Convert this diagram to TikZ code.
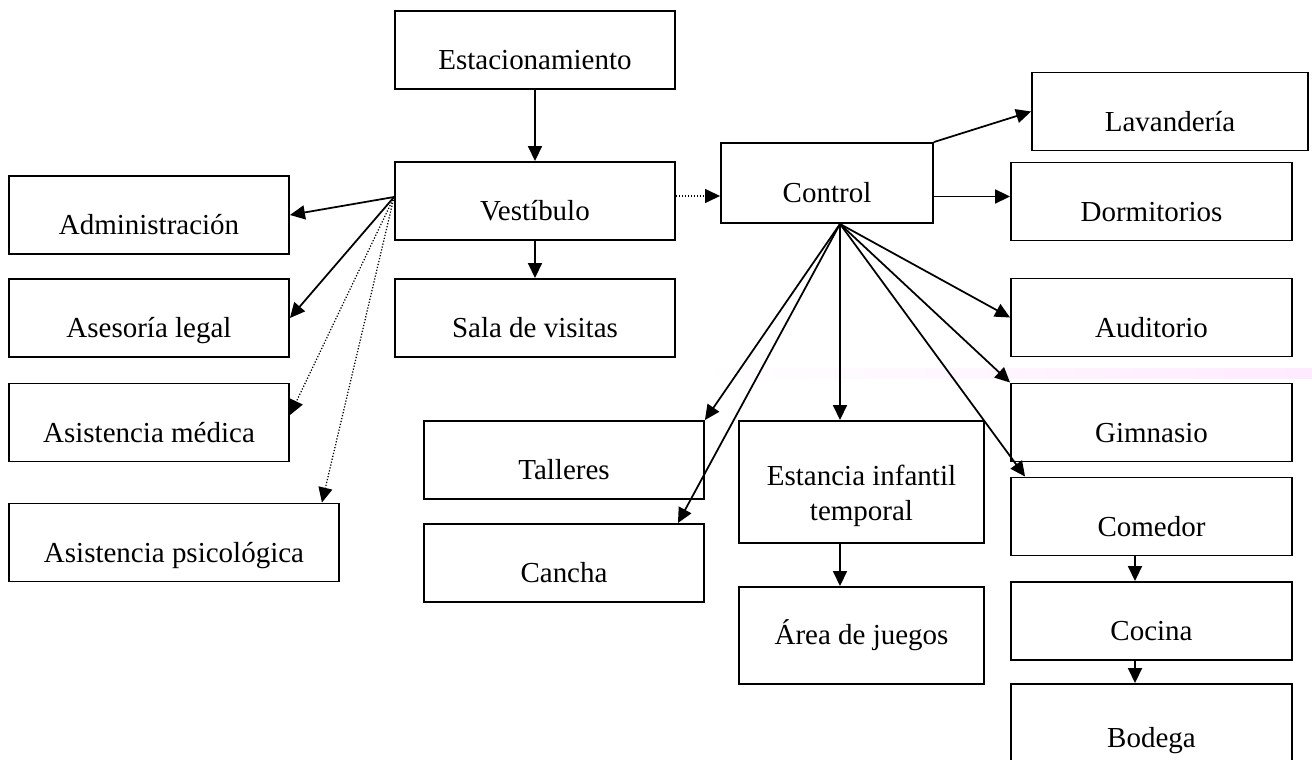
\documentclass[tikz,border=0pt]{standalone}
\usepackage{fontspec}
\setmainfont{Liberation Serif}
\usetikzlibrary{positioning, arrows.meta}

\begin{document}
\begin{tikzpicture}[
        x=0.02cm, y=-0.02cm,
        room/.style = {draw, line width=1.1pt, minimum width=#1, minimum height=1.56cm, inner sep=0pt,
                       font=\fontsize{16.5}{20}\selectfont, text height=0.95cm, text depth=0.15cm},
        room/.default = 5.6cm,
        plain/.style = {text height={}, text depth={}},
        link/.style = {line width=1pt, -{Triangle[length=0.3cm,width=0.28cm]}},
        dlink/.style = {line width=0.7pt, densely dotted, -{Triangle[length=0.3cm,width=0.28cm]}},
        ]
        \useasboundingbox (0,0) rectangle (1312,760);
        \shade[left color=white, right color=magenta!8] (700,368) rectangle (1312,378);

        \node[room] (est) at (535,50) {Estacionamiento};
        \node[room] (ves) at (535,201) {Vestíbulo};
        \node[room] (sala) at (535,318) {Sala de visitas};

        \node[room] (adm) at (149,215) {Administración};
        \node[room] (ase) at (149,318) {Asesoría legal};
        \node[room] (med) at (149,422.5) {Asistencia médica};
        \node[room=6.6cm] (psi) at (174,542.5) {Asistencia psicológica};

        \node[room=4.24cm, minimum height=1.6cm] (ctl) at (827,183) {Control};
        \node[room=5.52cm] (lav) at (1170,111.5) {Lavandería};
        \node[room=5.62cm] (dor) at (1151.5,201.5) {Dormitorios};
        \node[room=5.62cm] (aud) at (1151.5,317.5) {Auditorio};
        \node[room=5.62cm] (gim) at (1151.5,422.5) {Gimnasio};
        \node[room=5.62cm] (com) at (1151.5,516.5) {Comedor};
        \node[room=5.62cm] (coc) at (1151.5,621) {Cocina};
        \node[room=5.62cm, minimum height=1.72cm] (bod) at (1151.5,727) {Bodega};

        \node[room] (tal) at (564,460) {Talleres};
        \node[room] (can) at (564,563) {Cancha};
        \node[room=4.9cm, minimum height=2.44cm, plain, align=center] (ein) at (861.5,482) {\rule{0pt}{0.95cm}Estancia infantil\\temporal};
        \node[room=4.9cm, minimum height=1.94cm, plain] (are) at (861.5,635.5) {Área de juegos};

        \coordinate (vhub) at ([yshift=0.08cm]ves.west);
        \coordinate (chub) at ([xshift=0.26cm]ctl.south);

        \draw[link] (est) -- (ves);
        \draw[link] (ves) -- (sala);
        \draw[link] (vhub) -- (adm.east);
        \draw[link] (vhub) -- (ase.east);
        \draw[dlink] (vhub) -- ([yshift=-0.65cm]med.north east);
        \draw[dlink] (vhub) -- ([xshift=-0.36cm]psi.north east);
        \draw[dlink] ([yshift=0.1cm]ves.east) -- ([yshift=0.1cm]ves.east -| ctl.west);

        \draw[link] (ctl.north east) -- (lav.west);
        \draw[link] ([yshift=0.1cm]dor.west -| ctl.east) -- ([yshift=0.1cm]dor.west);
        \draw[link] (chub) -- (aud.west);
        \draw[link] (chub) -- (gim.north west);
        \draw[link] (chub) -- ([xshift=0.3cm]com.north west);
        \draw[link] (chub) -- (chub |- ein.north);
        \draw[link] (chub) -- (tal.north east);
        \draw[link] (chub) -- ([xshift=-0.54cm]can.north east);
        \draw[link] (chub |- ein.south) -- (chub |- are.north);
        \draw[link] ([xshift=-0.33cm]com.south) -- ([xshift=-0.33cm]coc.north);
        \draw[link] ([xshift=-0.33cm]coc.south) -- ([xshift=-0.33cm]bod.north);
    \end{tikzpicture}
\end{document}
